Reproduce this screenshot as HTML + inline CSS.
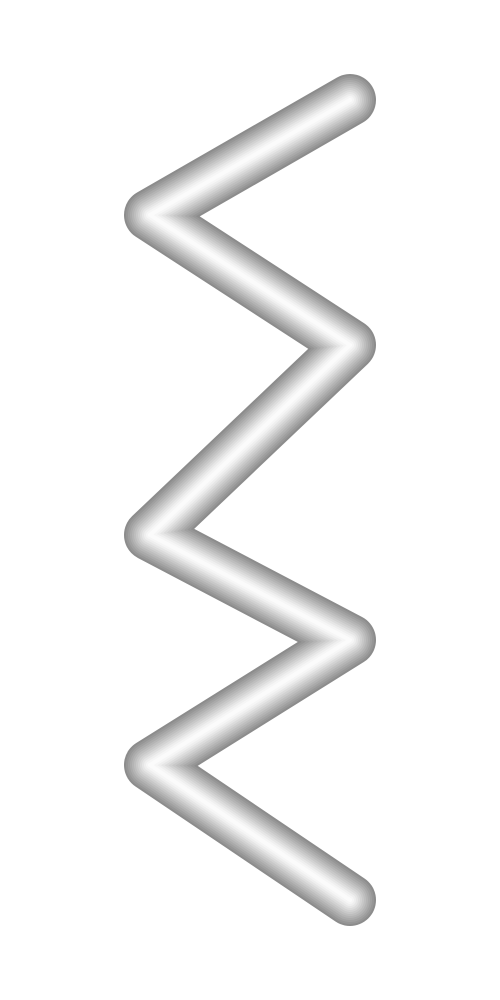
<!DOCTYPE html>
<html>
<head>
<meta charset="utf-8">
<style>
  html, body { margin: 0; padding: 0; background: #fff; }
  svg { display: block; }
</style>
</head>
<body>
<svg id="chart" width="500" height="1000" viewBox="0 0 500 1000" xmlns="http://www.w3.org/2000/svg">
  <g id="tube"></g>
</svg>
<script>
const xs = [350, 150, 350, 150, 350, 150, 350];
const ys = [100, 215, 345, 535, 640, 765, 900];
const widths = [52, 48, 44, 40, 36, 32, 28, 24, 20, 16, 12, 8, 4];
const colors = ["#8c8c8c", "#969696", "#a0a0a0", "#aaaaaa", "#b4b4b4", "#bebebe", "#c8c8c8", "#d2d2d2", "#dcdcdc", "#e6e6e6", "#efefef", "#f6f6f6", "#fbfbfb"];

const NS = "http://www.w3.org/2000/svg";
const g = document.getElementById("tube");
const d = xs.map((x, i) => (i ? "L" : "M") + x + " " + ys[i]).join(" ");
widths.forEach((w, i) => {
  const p = document.createElementNS(NS, "path");
  p.setAttribute("d", d);
  p.setAttribute("fill", "none");
  p.setAttribute("stroke", colors[i]);
  p.setAttribute("stroke-width", w);
  p.setAttribute("stroke-linecap", "round");
  p.setAttribute("stroke-linejoin", "round");
  
  
  g.appendChild(p);
});
</script>
</body>
</html>
